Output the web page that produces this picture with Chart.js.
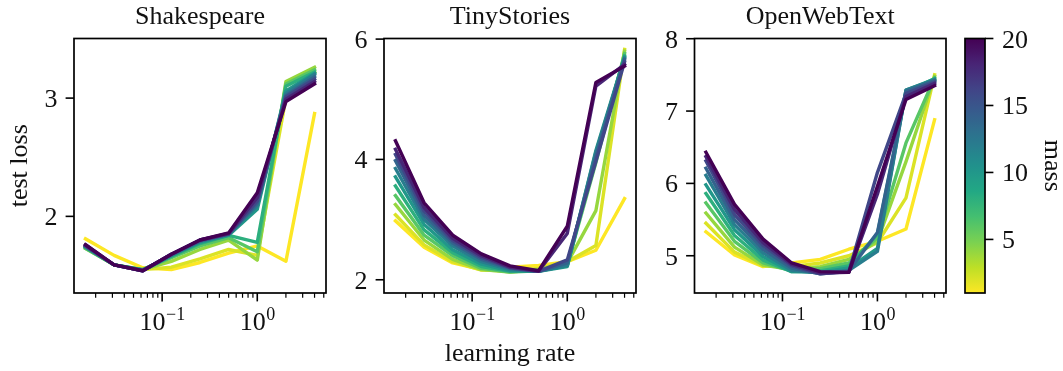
<!DOCTYPE html>
<html>
<head>
<meta charset="utf-8">
<script src="https://cdn.jsdelivr.net/npm/chart.js@4.4.1/dist/chart.umd.min.js"></script>
<style>
  html, body { margin: 0; padding: 0; background: #ffffff; }
  #wrap { position: relative; width: 1063px; height: 371px; overflow: hidden; }
  #wrap canvas { position: absolute; left: 0; top: 0; }
</style>
</head>
<body>
<div id="wrap">
  <canvas id="shakespeare" width="1063" height="371"></canvas>
  <canvas id="tinystories" width="1063" height="371"></canvas>
  <canvas id="openwebtext" width="1063" height="371"></canvas>
  <canvas id="colorbar" width="1063" height="371"></canvas>
</div>
<script>
// ---- data -------------------------------------------------------------
const learningRates = [0.015625, 0.03125, 0.0625, 0.125, 0.25, 0.5, 1, 2, 4];
const masses = [1, 2, 4, 6, 8, 10, 12, 14, 16, 18, 20];

// test loss per mass (rows follow `masses`), columns follow `learningRates`
const shakespeareLoss = [
  [1.81, 1.67, 1.565, 1.55, 1.61, 1.69, 1.75, 1.62, 2.87],
  [1.74, 1.59, 1.55, 1.57, 1.64, 1.72, 1.67, 3.00, 3.22],
  [1.73, 1.59, 1.55, 1.62, 1.72, 1.80, 1.63, 3.14, 3.26],
  [1.73, 1.59, 1.55, 1.65, 1.75, 1.82, 1.70, 3.12, 3.24],
  [1.74, 1.59, 1.55, 1.66, 1.77, 1.84, 1.78, 3.10, 3.22],
  [1.74, 1.59, 1.545, 1.67, 1.78, 1.84, 2.06, 3.06, 3.21],
  [1.75, 1.59, 1.545, 1.67, 1.79, 1.85, 2.09, 3.04, 3.20],
  [1.75, 1.59, 1.54, 1.68, 1.79, 1.85, 2.11, 3.02, 3.18],
  [1.75, 1.59, 1.54, 1.68, 1.80, 1.85, 2.13, 3.01, 3.16],
  [1.76, 1.59, 1.54, 1.68, 1.80, 1.855, 2.16, 2.99, 3.14],
  [1.76, 1.59, 1.54, 1.68, 1.80, 1.86, 2.20, 2.97, 3.12]
];
const tinyStoriesLoss = [
  [2.98, 2.54, 2.28, 2.17, 2.21, 2.24, 2.30, 2.49, 3.35],
  [3.08, 2.58, 2.30, 2.16, 2.15, 2.19, 2.30, 2.57, 5.83],
  [3.25, 2.66, 2.34, 2.17, 2.13, 2.17, 2.28, 3.15, 5.80],
  [3.40, 2.74, 2.40, 2.19, 2.13, 2.15, 2.25, 3.95, 5.76],
  [3.56, 2.83, 2.45, 2.22, 2.14, 2.15, 2.23, 4.05, 5.72],
  [3.71, 2.92, 2.50, 2.26, 2.15, 2.14, 2.22, 4.15, 5.70],
  [3.85, 3.00, 2.56, 2.30, 2.17, 2.14, 2.24, 4.12, 5.68],
  [3.98, 3.07, 2.61, 2.34, 2.19, 2.14, 2.28, 4.05, 5.66],
  [4.08, 3.14, 2.65, 2.37, 2.20, 2.14, 2.33, 3.97, 5.62],
  [4.17, 3.20, 2.69, 2.40, 2.21, 2.14, 2.77, 5.22, 5.58],
  [4.31, 3.28, 2.74, 2.43, 2.23, 2.15, 2.89, 5.28, 5.55]
];
const openWebTextLoss = [
  [5.33, 5.01, 4.85, 4.90, 4.95, 5.09, 5.20, 5.37, 6.88],
  [5.45, 5.05, 4.86, 4.85, 4.90, 5.00, 5.18, 5.80, 7.50],
  [5.59, 5.12, 4.87, 4.81, 4.85, 4.95, 5.20, 6.30, 7.48],
  [5.73, 5.20, 4.90, 4.79, 4.82, 4.90, 5.25, 6.56, 7.46],
  [5.86, 5.28, 4.94, 4.78, 4.79, 4.86, 5.30, 7.26, 7.45],
  [5.98, 5.36, 4.99, 4.78, 4.77, 4.83, 5.10, 7.29, 7.44],
  [6.11, 5.43, 5.04, 4.80, 4.76, 4.80, 5.06, 7.29, 7.43],
  [6.21, 5.50, 5.09, 4.83, 4.75, 4.79, 5.32, 7.27, 7.42],
  [6.31, 5.57, 5.14, 4.86, 4.75, 4.78, 6.15, 7.24, 7.40],
  [6.37, 5.64, 5.18, 4.88, 4.76, 4.77, 5.85, 7.20, 7.38],
  [6.43, 5.71, 5.23, 4.90, 4.78, 4.77, 5.96, 7.16, 7.35]
];

const panelTitles = ['Shakespeare', 'TinyStories', 'OpenWebText'];
const shakespeareTicks = [2, 3];
const tinyStoriesTicks = [2, 4, 6];
const openWebTextTicks = [5, 6, 7, 8];
const xMajorTicks = [0.1, 1];
const xMajorLabels = [['10', '\u22121'], ['10', '0']];
const massTicks = [5, 10, 15, 20];
const xAxisTitle = 'learning rate';
const yAxisTitle = 'test loss';
const colorbarTitle = 'mass';

// ---- styling / layout --------------------------------------------------
const W = 1063, H = 371;
const FONT = '"Liberation Serif", "Times New Roman", serif';
const FS = 26;          // main text size
const FS_SUP = 18;      // exponent size
const INK = '#111111';
const BOX_TOP = 38.5, BOX_BOTTOM = 293;
const X_MIN = Math.pow(2, -6.4), X_MAX = Math.pow(2, 2.4);

const VIRIDIS = ['#440154', '#482475', '#414487', '#355f8d', '#2a788e', '#21918c',
                 '#22a884', '#44bf70', '#7ad151', '#bddf26', '#fde725'];
function hexRgb(h) { return [1, 3, 5].map(i => parseInt(h.slice(i, i + 2), 16)); }
function viridis(t) {
  t = Math.max(0, Math.min(1, t));
  const p = t * (VIRIDIS.length - 1);
  const i = Math.min(Math.floor(p), VIRIDIS.length - 2);
  const f = p - i;
  const a = hexRgb(VIRIDIS[i]), b = hexRgb(VIRIDIS[i + 1]);
  const c = a.map((v, k) => Math.round(v + (b[k] - v) * f));
  return `rgb(${c[0]},${c[1]},${c[2]})`;
}
// reversed colormap: small mass -> yellow, large mass -> dark purple
function massColor(m) { return viridis(1 - (m - 1) / 19); }

const panels = [
  { canvas: 'shakespeare', title: panelTitles[0], loss: shakespeareLoss, yTicks: shakespeareTicks,
    yMin: 1.352, yMax: 3.504, left: 74, right: 326, yLabel: true, xLabel: false },
  { canvas: 'tinystories', title: panelTitles[1], loss: tinyStoriesLoss, yTicks: tinyStoriesTicks,
    yMin: 1.78, yMax: 6.01, left: 384, right: 636, yLabel: false, xLabel: true },
  { canvas: 'openwebtext', title: panelTitles[2], loss: openWebTextLoss, yTicks: openWebTextTicks,
    yMin: 4.485, yMax: 8.003, left: 694.5, right: 946, yLabel: false, xLabel: false }
];

function drawFrame(ctx, a) {
  ctx.save();
  ctx.strokeStyle = '#000';
  ctx.lineWidth = 1.7;
  ctx.strokeRect(a.left, a.top, a.right - a.left, a.bottom - a.top);
  ctx.restore();
}

// axes decoration: frame, ticks, tick labels, titles
function panelDecor(p) {
  return {
    id: 'panelDecor',
    afterDatasetsDraw(chart) {
      const ctx = chart.ctx, a = chart.chartArea;
      const xs = chart.scales.x, ys = chart.scales.y;
      ctx.save();
      drawFrame(ctx, a);
      ctx.strokeStyle = '#000';
      ctx.fillStyle = INK;

      // y ticks
      ctx.lineWidth = 1.6;
      ctx.font = `${FS}px ${FONT}`;
      ctx.textAlign = 'right';
      ctx.textBaseline = 'alphabetic';
      p.yTicks.forEach(v => {
        const y = ys.getPixelForValue(v);
        ctx.beginPath(); ctx.moveTo(a.left, y); ctx.lineTo(a.left - 8.4, y); ctx.stroke();
        ctx.fillText(String(v), a.left - 16.5, y + 9);
      });

      // x minor ticks (log decades)
      ctx.lineWidth = 1.2;
      for (let d = -3; d <= 1; d++) {
        for (let k = 2; k <= 9; k++) {
          const v = k * Math.pow(10, d);
          if (v < X_MIN || v > X_MAX) continue;
          const x = xs.getPixelForValue(v);
          ctx.beginPath(); ctx.moveTo(x, a.bottom); ctx.lineTo(x, a.bottom + 4.8); ctx.stroke();
        }
      }
      // x major ticks with exponent labels
      ctx.lineWidth = 1.6;
      xMajorTicks.forEach((v, i) => {
        const x = xs.getPixelForValue(v);
        ctx.beginPath(); ctx.moveTo(x, a.bottom); ctx.lineTo(x, a.bottom + 8.4); ctx.stroke();
        const [base, exp] = xMajorLabels[i];
        ctx.font = `${FS}px ${FONT}`;
        const wb = ctx.measureText(base).width;
        ctx.font = `${FS_SUP}px ${FONT}`;
        const we = ctx.measureText(exp).width;
        const x0 = x - (wb + we) / 2;
        ctx.textAlign = 'left';
        ctx.font = `${FS}px ${FONT}`;
        ctx.fillText(base, x0, a.bottom + 37);
        ctx.font = `${FS_SUP}px ${FONT}`;
        ctx.fillText(exp, x0 + wb + 0.5, a.bottom + 27);
      });

      // panel title
      ctx.font = `${FS}px ${FONT}`;
      ctx.textAlign = 'center';
      ctx.fillText(p.title, (a.left + a.right) / 2, 23.5);

      if (p.yLabel) {
        ctx.save();
        ctx.translate(27, (a.top + a.bottom) / 2);
        ctx.rotate(-Math.PI / 2);
        ctx.textAlign = 'center';
        ctx.fillText(yAxisTitle, 0, 0);
        ctx.restore();
      }
      if (p.xLabel) {
        ctx.textAlign = 'center';
        ctx.fillText(xAxisTitle, (a.left + a.right) / 2, 360.5);
      }
      ctx.restore();
    }
  };
}

panels.forEach(p => {
  new Chart(document.getElementById(p.canvas), {
    type: 'line',
    data: {
      datasets: masses.map((m, i) => ({
        label: 'mass ' + m,
        data: learningRates.map((lr, j) => ({ x: lr, y: p.loss[i][j] })),
        borderColor: massColor(m),
        backgroundColor: massColor(m),
        borderWidth: 3.4,
        pointRadius: 0,
        tension: 0,
        fill: false,
        borderCapStyle: 'square',
        borderJoinStyle: 'round',
        order: masses.length - i   // heavier masses are painted last, on top
      }))
    },
    options: {
      responsive: false,
      animation: false,
      devicePixelRatio: 1,
      events: [],
      layout: { padding: { left: p.left, right: W - p.right, top: BOX_TOP, bottom: H - BOX_BOTTOM } },
      plugins: { legend: { display: false }, tooltip: { enabled: false }, title: { display: false } },
      scales: {
        x: { type: 'logarithmic', min: X_MIN, max: X_MAX, display: false },
        y: { type: 'linear', min: p.yMin, max: p.yMax, display: false }
      }
    },
    plugins: [panelDecor(p)]
  });
});

// ---- colorbar ---------------------------------------------------------
const colorbarDecor = {
  id: 'colorbarDecor',
  afterDatasetsDraw(chart) {
    const ctx = chart.ctx, a = chart.chartArea, ys = chart.scales.y;
    ctx.save();
    const yLo = ys.getPixelForValue(1), yHi = ys.getPixelForValue(20);
    const g = ctx.createLinearGradient(0, yLo, 0, yHi);
    for (let i = 0; i <= 40; i++) {
      const m = 1 + 19 * i / 40;
      g.addColorStop(i / 40, massColor(m));
    }
    ctx.fillStyle = g;
    ctx.fillRect(a.left, a.top, a.right - a.left, a.bottom - a.top);
    drawFrame(ctx, a);
    ctx.strokeStyle = '#000';
    ctx.lineWidth = 1.6;
    ctx.fillStyle = INK;
    ctx.font = `${FS}px ${FONT}`;
    ctx.textAlign = 'left';
    massTicks.forEach(v => {
      const y = ys.getPixelForValue(v);
      ctx.beginPath(); ctx.moveTo(a.right, y); ctx.lineTo(a.right + 8.4, y); ctx.stroke();
      ctx.fillText(String(v), a.right + 17, y + 9);
    });
    ctx.translate(1045, (a.top + a.bottom) / 2);
    ctx.rotate(Math.PI / 2);
    ctx.textAlign = 'center';
    ctx.fillText(colorbarTitle, 0, 0);
    ctx.restore();
  }
};

new Chart(document.getElementById('colorbar'), {
  type: 'scatter',
  data: { datasets: [{ data: [] }] },
  options: {
    responsive: false,
    animation: false,
    devicePixelRatio: 1,
    events: [],
    layout: { padding: { left: 965, right: W - 985, top: BOX_TOP, bottom: H - BOX_BOTTOM } },
    plugins: { legend: { display: false }, tooltip: { enabled: false } },
    scales: {
      x: { type: 'linear', min: 0, max: 1, display: false },
      y: { type: 'linear', min: 1, max: 20, display: false }
    }
  },
  plugins: [colorbarDecor]
});
</script>
</body>
</html>
